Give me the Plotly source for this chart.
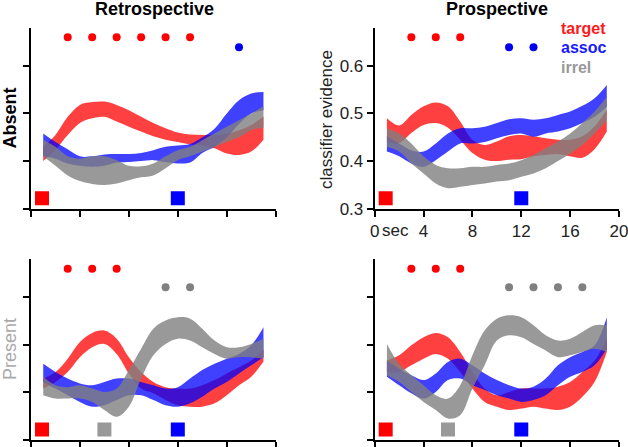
import plotly.graph_objects as go

# ---------------- data ----------------
t = list(range(1, 20))  # seconds

# Retrospective / Absent
ra_red_lo = [0.40, 0.424, 0.455, 0.48, 0.49, 0.493, 0.483, 0.472, 0.462, 0.452, 0.445, 0.44, 0.435, 0.433, 0.427, 0.416, 0.413, 0.42, 0.445]
ra_red_hi = [0.43, 0.455, 0.493, 0.518, 0.524, 0.525, 0.518, 0.507, 0.493, 0.48, 0.469, 0.46, 0.456, 0.455, 0.455, 0.458, 0.465, 0.476, 0.493]
ra_blue_lo = [0.41, 0.405, 0.395, 0.39, 0.388, 0.39, 0.397, 0.398, 0.40, 0.402, 0.398, 0.395, 0.397, 0.417, 0.43, 0.45, 0.478, 0.50, 0.507]
ra_blue_hi = [0.458, 0.44, 0.425, 0.41, 0.41, 0.414, 0.415, 0.415, 0.417, 0.423, 0.43, 0.433, 0.436, 0.45, 0.468, 0.50, 0.528, 0.542, 0.545]
ra_gray_lo = [0.41, 0.39, 0.37, 0.358, 0.352, 0.35, 0.353, 0.36, 0.366, 0.37, 0.385, 0.402, 0.41, 0.42, 0.43, 0.44, 0.45, 0.465, 0.47]
ra_gray_hi = [0.445, 0.43, 0.41, 0.405, 0.41, 0.41, 0.402, 0.39, 0.389, 0.395, 0.41, 0.423, 0.43, 0.444, 0.458, 0.472, 0.486, 0.50, 0.515]

# Prospective / Absent
pa_red_lo = [0.44, 0.438, 0.459, 0.476, 0.48, 0.47, 0.445, 0.417, 0.403, 0.40, 0.403, 0.404, 0.41, 0.413, 0.415, 0.41, 0.407, 0.425, 0.462]
pa_red_hi = [0.49, 0.475, 0.497, 0.515, 0.523, 0.515, 0.483, 0.445, 0.434, 0.441, 0.452, 0.455, 0.452, 0.448, 0.445, 0.445, 0.452, 0.473, 0.508]
pa_blue_lo = [0.42, 0.41, 0.395, 0.388, 0.402, 0.42, 0.437, 0.437, 0.44, 0.448, 0.455, 0.458, 0.451, 0.458, 0.462, 0.469, 0.48, 0.493, 0.514]
pa_blue_hi = [0.452, 0.437, 0.423, 0.42, 0.437, 0.458, 0.469, 0.469, 0.472, 0.48, 0.488, 0.49, 0.487, 0.49, 0.497, 0.504, 0.516, 0.532, 0.56]
pa_gray_lo = [0.43, 0.42, 0.395, 0.374, 0.353, 0.343, 0.346, 0.35, 0.353, 0.357, 0.36, 0.367, 0.374, 0.385, 0.40, 0.416, 0.434, 0.458, 0.486]
pa_gray_hi = [0.469, 0.458, 0.437, 0.41, 0.392, 0.385, 0.385, 0.388, 0.388, 0.392, 0.395, 0.402, 0.413, 0.427, 0.441, 0.458, 0.48, 0.504, 0.535]

# Retrospective / Present
rp_red_lo = [0.408, 0.422, 0.443, 0.474, 0.495, 0.502, 0.481, 0.44, 0.408, 0.398, 0.384, 0.373, 0.37, 0.37, 0.377, 0.394, 0.415, 0.433, 0.465]
rp_red_hi = [0.429, 0.443, 0.471, 0.506, 0.525, 0.53, 0.513, 0.474, 0.443, 0.422, 0.411, 0.408, 0.408, 0.415, 0.426, 0.44, 0.453, 0.467, 0.49]
rp_blue_lo = [0.422, 0.408, 0.394, 0.38, 0.37, 0.373, 0.384, 0.394, 0.394, 0.384, 0.373, 0.37, 0.377, 0.391, 0.408, 0.422, 0.44, 0.457, 0.474]
rp_blue_hi = [0.46, 0.443, 0.429, 0.419, 0.415, 0.422, 0.429, 0.429, 0.422, 0.415, 0.408, 0.411, 0.429, 0.447, 0.46, 0.471, 0.481, 0.499, 0.537]
rp_gray_lo = [0.394, 0.387, 0.387, 0.387, 0.38, 0.363, 0.349, 0.37, 0.429, 0.478, 0.502, 0.513, 0.509, 0.495, 0.481, 0.471, 0.474, 0.474, 0.471]
rp_gray_hi = [0.433, 0.415, 0.411, 0.415, 0.408, 0.401, 0.408, 0.447, 0.492, 0.534, 0.551, 0.558, 0.555, 0.534, 0.509, 0.495, 0.495, 0.502, 0.513]

# Prospective / Present
pp_red_lo = [0.443, 0.443, 0.457, 0.471, 0.481, 0.471, 0.443, 0.408, 0.38, 0.37, 0.363, 0.366, 0.37, 0.366, 0.363, 0.37, 0.391, 0.422, 0.485]
pp_red_hi = [0.467, 0.478, 0.499, 0.516, 0.525, 0.516, 0.485, 0.443, 0.408, 0.394, 0.401, 0.408, 0.408, 0.408, 0.412, 0.422, 0.443, 0.467, 0.513]
pp_blue_lo = [0.433, 0.415, 0.398, 0.387, 0.401, 0.426, 0.429, 0.415, 0.405, 0.394, 0.387, 0.38, 0.384, 0.394, 0.415, 0.433, 0.443, 0.457, 0.492]
pp_blue_hi = [0.467, 0.45, 0.436, 0.426, 0.44, 0.464, 0.471, 0.457, 0.44, 0.426, 0.415, 0.408, 0.412, 0.429, 0.457, 0.474, 0.485, 0.499, 0.558]
pp_gray_lo = [0.436, 0.422, 0.401, 0.38, 0.363, 0.345, 0.352, 0.408, 0.457, 0.509, 0.52, 0.516, 0.502, 0.488, 0.474, 0.478, 0.485, 0.492, 0.485]
pp_gray_hi = [0.502, 0.46, 0.436, 0.415, 0.394, 0.387, 0.415, 0.478, 0.53, 0.555, 0.562, 0.558, 0.541, 0.52, 0.509, 0.513, 0.527, 0.541, 0.541]

# significance dots (times)
ra_red_dots = [3, 5, 7, 9, 11, 13]
ra_blue_dots = [17]
pa_red_dots = [3, 5, 7]
pa_blue_dots = [11, 13]
rp_red_dots = [3, 5, 7]
rp_gray_dots = [11, 13]
pp_red_dots = [3, 5, 7]
pp_gray_dots = [11, 13, 15, 17]

# event squares (onset times)
sq_target = 0.9
sq_irrel = 6
sq_assoc = 12

x_ticks = [0, 4, 8, 12, 16, 20]
x_ticktext = ["0", "4", "8", "12", "16", "20"]
y_ticks = [0.3, 0.4, 0.5, 0.6]
y_ticktext = ["0.3", "0.4", "0.5", "0.6"]

# ---------------- styling ----------------
RED = "rgba(255,0,0,0.75)"
BLUE = "rgba(0,0,255,0.75)"
GRAY = "rgba(128,128,128,0.8)"
FONT = "Liberation Sans, Arial, sans-serif"
W, H = 628, 447

fig = go.Figure()

panels = {
    1: dict(bands=[(ra_red_lo, ra_red_hi, RED), (ra_blue_lo, ra_blue_hi, BLUE), (ra_gray_lo, ra_gray_hi, GRAY)],
            dots=[(ra_red_dots, 0.66, "#ff0000"), (ra_blue_dots, 0.639, "#0000ee")],
            squares=[(sq_target, "#ff0000"), (sq_assoc, "#0000ff")]),
    2: dict(bands=[(pa_red_lo, pa_red_hi, RED), (pa_blue_lo, pa_blue_hi, BLUE), (pa_gray_lo, pa_gray_hi, GRAY)],
            dots=[(pa_red_dots, 0.66, "#ff0000"), (pa_blue_dots, 0.639, "#0000ee")],
            squares=[(sq_target, "#ff0000"), (sq_assoc, "#0000ff")]),
    3: dict(bands=[(rp_red_lo, rp_red_hi, RED), (rp_blue_lo, rp_blue_hi, BLUE), (rp_gray_lo, rp_gray_hi, GRAY)],
            dots=[(rp_red_dots, 0.66, "#ff0000"), (rp_gray_dots, 0.621, "#808080")],
            squares=[(sq_target, "#ff0000"), (sq_irrel, "#999999"), (sq_assoc, "#0000ff")]),
    4: dict(bands=[(pp_red_lo, pp_red_hi, RED), (pp_blue_lo, pp_blue_hi, BLUE), (pp_gray_lo, pp_gray_hi, GRAY)],
            dots=[(pp_red_dots, 0.66, "#ff0000"), (pp_gray_dots, 0.621, "#808080")],
            squares=[(sq_target, "#ff0000"), (sq_irrel, "#999999"), (sq_assoc, "#0000ff")]),
}

for k, p in panels.items():
    xa = "x" if k == 1 else f"x{k}"
    ya = "y" if k == 1 else f"y{k}"
    for lo, hi, col in p["bands"]:
        fig.add_trace(go.Scatter(x=t, y=lo, mode="lines", line=dict(width=0, shape="spline", color=col),
                                 xaxis=xa, yaxis=ya, showlegend=False, hoverinfo="skip"))
        fig.add_trace(go.Scatter(x=t, y=hi, mode="lines", line=dict(width=0, shape="spline", color=col),
                                 fill="tonexty", fillcolor=col,
                                 xaxis=xa, yaxis=ya, showlegend=False, hoverinfo="skip"))
    for xs, yv, col in p["dots"]:
        fig.add_trace(go.Scatter(x=xs, y=[yv] * len(xs), mode="markers",
                                 marker=dict(size=8, color=col, line=dict(width=0)),
                                 xaxis=xa, yaxis=ya, showlegend=False, hoverinfo="skip"))
    for xv, col in p["squares"]:
        fig.add_trace(go.Scatter(x=[xv], y=[0.322], mode="markers",
                                 marker=dict(size=14, symbol="square", color=col, line=dict(width=0)),
                                 xaxis=xa, yaxis=ya, showlegend=False, hoverinfo="skip"))

def px_x(px):
    return px / W

def px_y(py):
    return 1 - py / H

x_dom_left = [px_x(31), px_x(275.7)]
x_dom_right = [px_x(374.7), px_x(619)]
y_dom_top = [px_y(208.7), px_y(27.8)]
y_dom_bot = [px_y(440), px_y(259.2)]

def xaxis(dom, anchor, labels):
    return dict(domain=dom, anchor=anchor, range=[0, 20], showline=True, linewidth=2, linecolor="black",
                ticks="outside", ticklen=6, tickwidth=1.5, tickcolor="black",
                tickvals=x_ticks, ticktext=x_ticktext, showticklabels=labels,
                ticklabeloverflow="allow", automargin=False,
                tickfont=dict(family=FONT, size=17, color="#222"),
                showgrid=False, zeroline=False, fixedrange=True)

def yaxis(dom, anchor, labels):
    return dict(domain=dom, anchor=anchor, range=[0.3, 0.68], showline=True, linewidth=2, linecolor="black",
                ticks="outside", ticklen=6, tickwidth=1.5, tickcolor="black",
                tickvals=y_ticks, ticktext=y_ticktext, showticklabels=labels,
                ticklabeloverflow="allow", automargin=False,
                tickfont=dict(family=FONT, size=17, color="#222"),
                showgrid=False, zeroline=False, fixedrange=True)

annotations = [
    dict(text="<b>Retrospective</b>", x=px_x(154), y=px_y(9), xref="paper", yref="paper",
         showarrow=False, font=dict(family=FONT, size=18, color="black"), xanchor="center", yanchor="middle"),
    dict(text="<b>Prospective</b>", x=px_x(496.5), y=px_y(9), xref="paper", yref="paper",
         showarrow=False, font=dict(family=FONT, size=18, color="black"), xanchor="center", yanchor="middle"),
    dict(text="<b>Absent</b>", x=px_x(9.5), y=px_y(118), xref="paper", yref="paper", textangle=-90,
         showarrow=False, font=dict(family=FONT, size=18, color="black"), xanchor="center", yanchor="middle"),
    dict(text="Present", x=px_x(10), y=px_y(349), xref="paper", yref="paper", textangle=-90,
         showarrow=False, font=dict(family=FONT, size=18, color="#aaaaaa"), xanchor="center", yanchor="middle"),
    dict(text="classifier evidence", x=px_x(326), y=px_y(120), xref="paper", yref="paper", textangle=-90,
         showarrow=False, font=dict(family=FONT, size=17, color="#222"), xanchor="center", yanchor="middle"),
    dict(text="sec", x=1.7, y=0.3, xref="x2", yref="y2", yshift=-22,
         showarrow=False, font=dict(family=FONT, size=17, color="#222"), xanchor="center", yanchor="middle"),
    dict(text="<b>target</b>", x=px_x(559), y=px_y(28), xref="paper", yref="paper",
         showarrow=False, font=dict(family=FONT, size=16, color="#ff1a1a"), xanchor="left", yanchor="middle"),
    dict(text="<b>assoc</b>", x=px_x(559), y=px_y(47.5), xref="paper", yref="paper",
         showarrow=False, font=dict(family=FONT, size=16, color="#1a1aff"), xanchor="left", yanchor="middle"),
    dict(text="<b>irrel</b>", x=px_x(559), y=px_y(67), xref="paper", yref="paper",
         showarrow=False, font=dict(family=FONT, size=16, color="#999999"), xanchor="left", yanchor="middle"),
]

fig.update_layout(
    template="none",
    width=W, height=H, margin=dict(l=0, r=0, t=0, b=0, autoexpand=False),
    paper_bgcolor="white", plot_bgcolor="white", showlegend=False,
    xaxis=xaxis(x_dom_left, "y", False), yaxis=yaxis(y_dom_top, "x", False),
    xaxis2=xaxis(x_dom_right, "y2", True), yaxis2=yaxis(y_dom_top, "x2", True),
    xaxis3=xaxis(x_dom_left, "y3", False), yaxis3=yaxis(y_dom_bot, "x3", False),
    xaxis4=xaxis(x_dom_right, "y4", False), yaxis4=yaxis(y_dom_bot, "x4", False),
    annotations=annotations,
    font=dict(family=FONT),
)

fig.write_html("out.html", config=dict(displayModeBar=False))
